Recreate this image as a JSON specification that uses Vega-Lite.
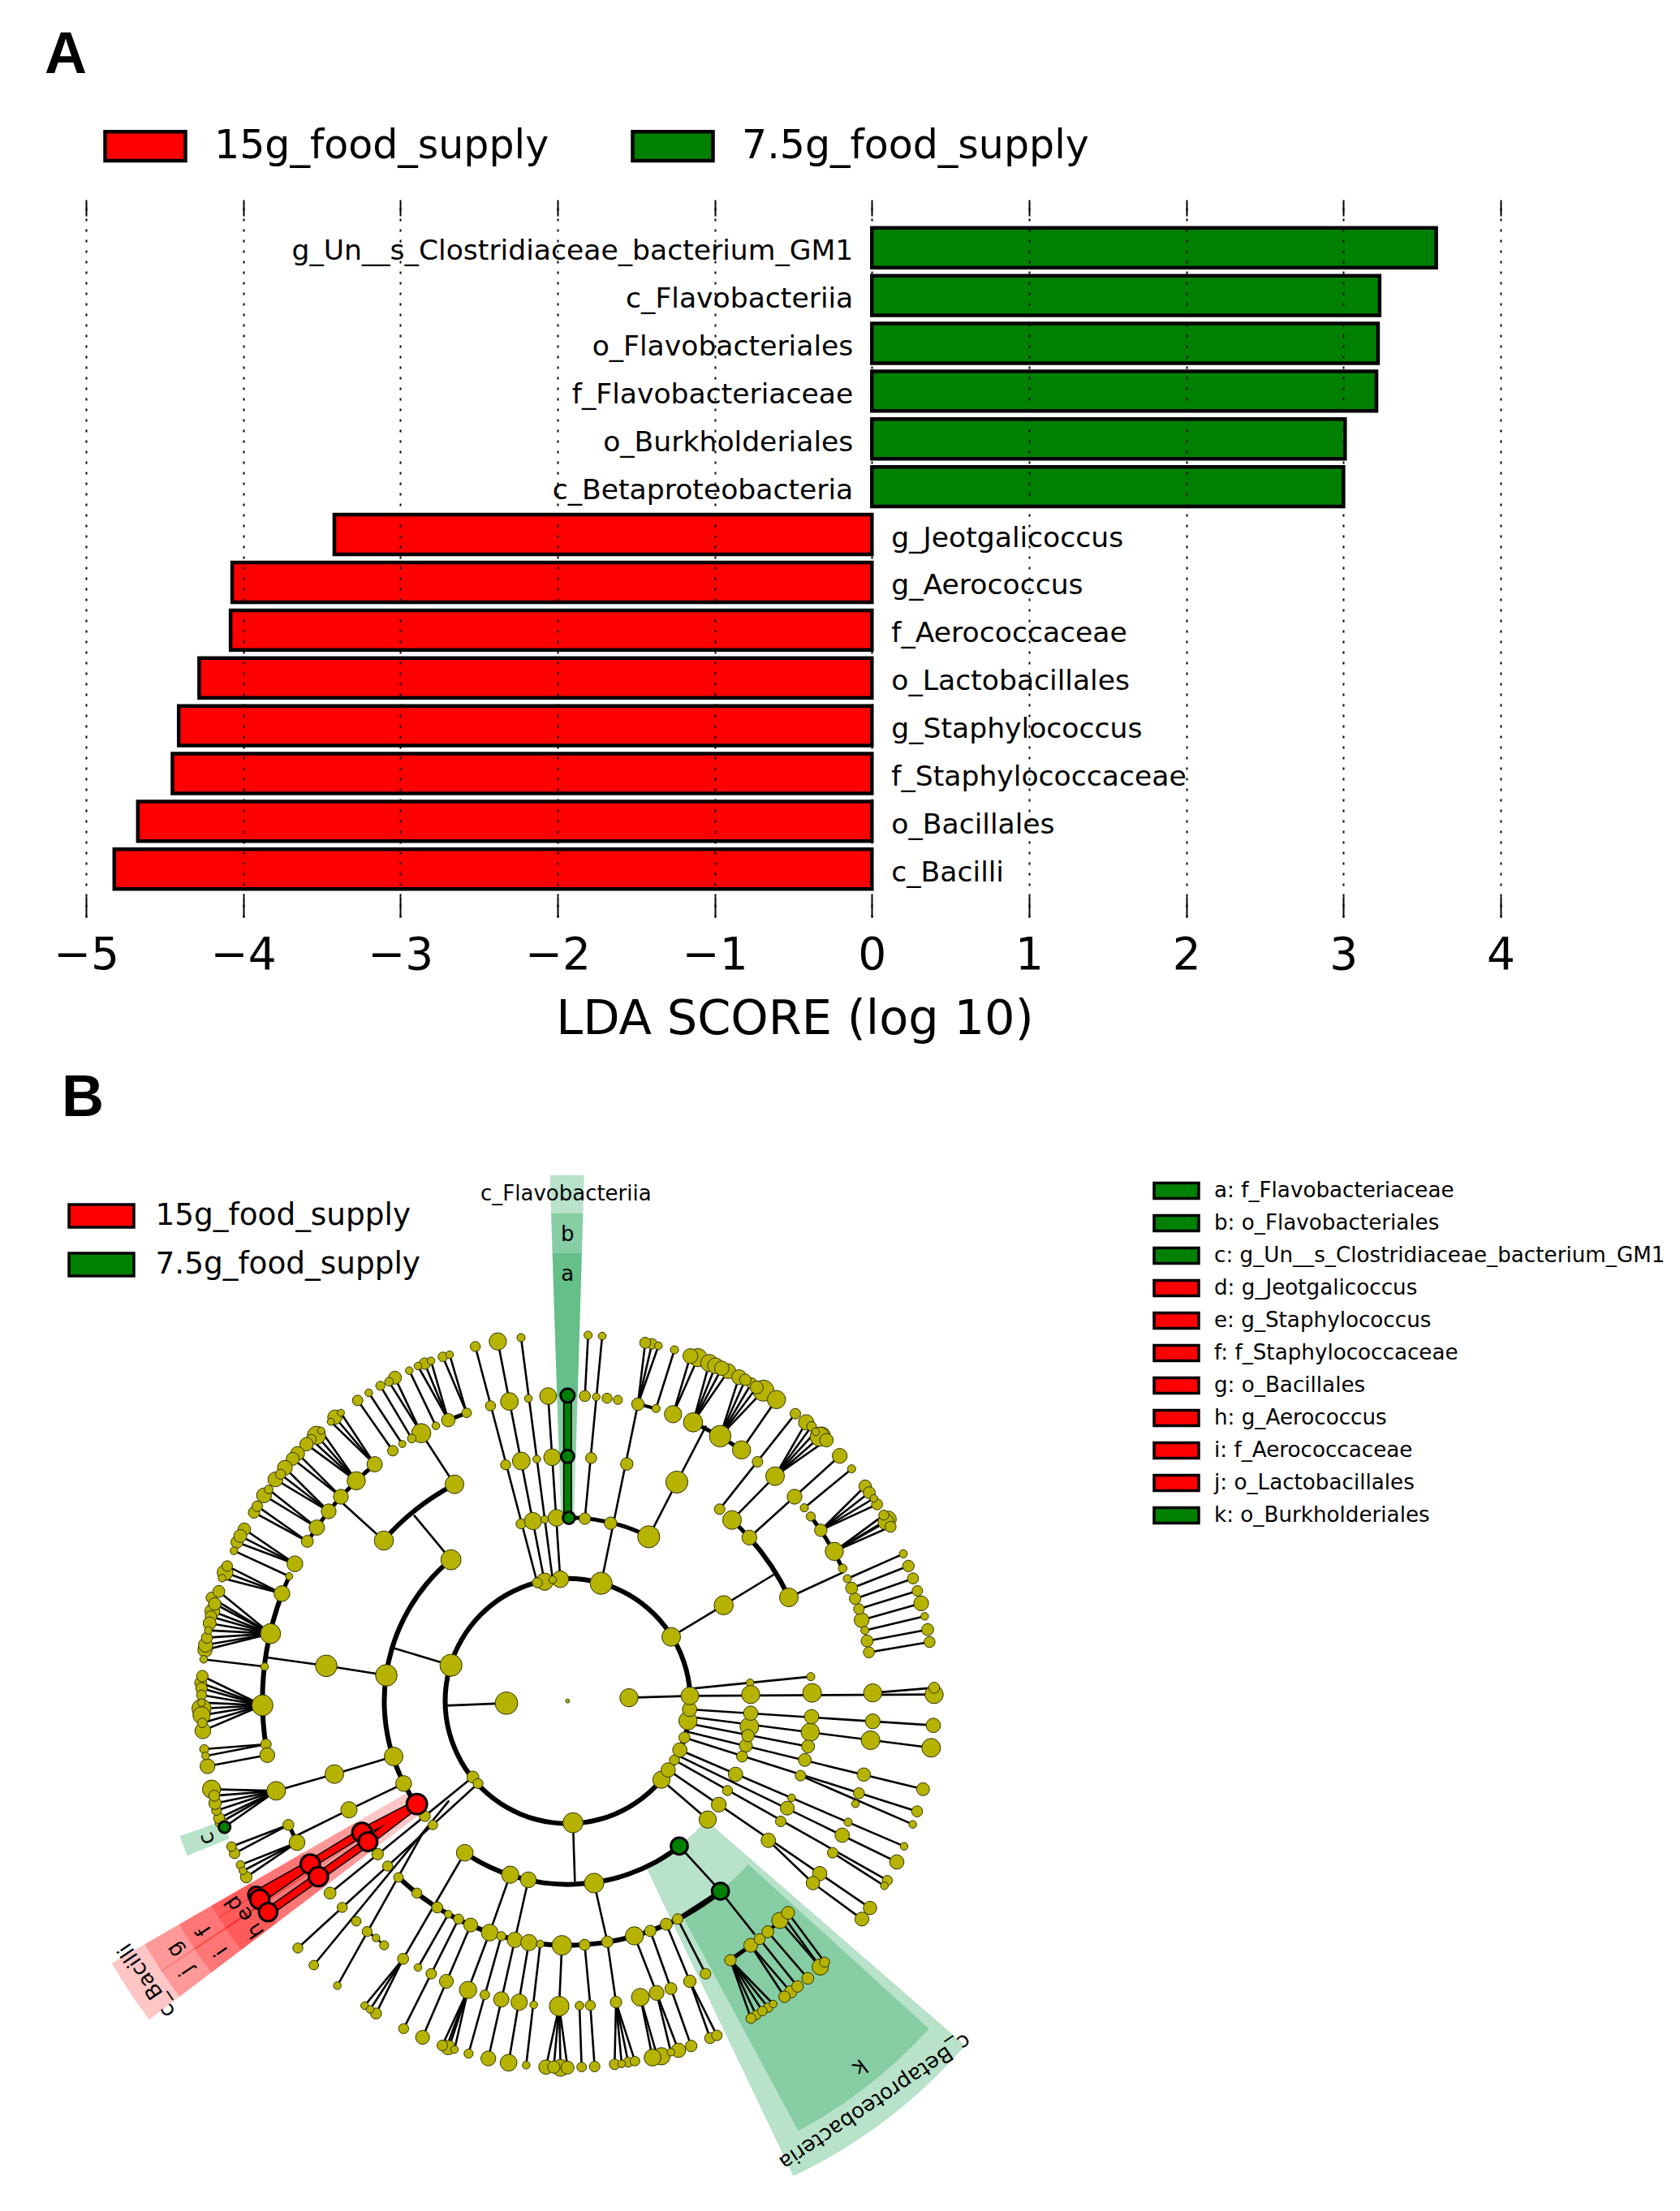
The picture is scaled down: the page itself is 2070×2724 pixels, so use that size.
{"$schema":"https://vega.github.io/schema/vega-lite/v6.json","background":"white","padding":{"left":0,"top":32,"right":0,"bottom":0},"autosize":{"type":"pad"},"spacing":15,"config":{"view":{"stroke":null},"font":"DejaVu Sans"},
"datasets":{
"lda":[{"taxon":"g_Un__s_Clostridiaceae_bacterium_GM1","score":3.59,"group":"7.5g_food_supply"},{"taxon":"c_Flavobacteriia","score":3.23,"group":"7.5g_food_supply"},{"taxon":"o_Flavobacteriales","score":3.22,"group":"7.5g_food_supply"},{"taxon":"f_Flavobacteriaceae","score":3.21,"group":"7.5g_food_supply"},{"taxon":"o_Burkholderiales","score":3.01,"group":"7.5g_food_supply"},{"taxon":"c_Betaproteobacteria","score":3.0,"group":"7.5g_food_supply"},{"taxon":"g_Jeotgalicoccus","score":-3.42,"group":"15g_food_supply"},{"taxon":"g_Aerococcus","score":-4.07,"group":"15g_food_supply"},{"taxon":"f_Aerococcaceae","score":-4.08,"group":"15g_food_supply"},{"taxon":"o_Lactobacillales","score":-4.28,"group":"15g_food_supply"},{"taxon":"g_Staphylococcus","score":-4.41,"group":"15g_food_supply"},{"taxon":"f_Staphylococcaceae","score":-4.45,"group":"15g_food_supply"},{"taxon":"o_Bacillales","score":-4.67,"group":"15g_food_supply"},{"taxon":"c_Bacilli","score":-4.82,"group":"15g_food_supply"}],
"wedgesGreen":[{"theta":-1.85,"theta2":1.7,"r":226,"r2":647,"rank":"class"},{"theta":-1.85,"theta2":1.7,"r":301,"r2":600,"rank":"order"},{"theta":-1.85,"theta2":1.7,"r":376,"r2":551,"rank":"family"},{"theta":131,"theta2":154.5,"r":226,"r2":647,"rank":"class"},{"theta":132.3,"theta2":151.7,"r":301,"r2":600,"rank":"order"},{"theta":248,"theta2":250.7,"r":451,"r2":505,"rank":"order"}],
"wedgesRed":[{"theta":232.8,"theta2":240,"r":226,"r2":647,"rank":"class"},{"theta":236.4,"theta2":240,"r":301,"r2":600,"rank":"order"},{"theta":232.8,"theta2":236.4,"r":301,"r2":600,"rank":"order"},{"theta":236.4,"theta2":240,"r":376,"r2":551,"rank":"order"},{"theta":232.8,"theta2":236.4,"r":376,"r2":551,"rank":"order"},{"theta":236.4,"theta2":238.2,"r":451,"r2":505,"rank":"order"},{"theta":238.2,"theta2":240,"r":451,"r2":505,"rank":"order"},{"theta":232.8,"theta2":236.4,"r":451,"r2":505,"rank":"order"}],
"arcs":[{"theta":0,"theta2":360,"r":148,"r2":154},{"theta":235.5,"theta2":320.5,"r":223,"r2":229},{"theta":142.4,"theta2":214.1,"r":223,"r2":229},{"theta":0,"theta2":26.3,"r":223.5,"r2":228.5},{"theta":311.1,"theta2":332.4,"r":298,"r2":304},{"theta":42.2,"theta2":48,"r":298.5,"r2":303.5},{"theta":48,"theta2":64.9,"r":298,"r2":304},{"theta":141.2,"theta2":223.8,"r":298,"r2":304},{"theta":337,"theta2":340.7,"r":373.5,"r2":378.5},{"theta":316.2,"theta2":320.8,"r":373.5,"r2":378.5},{"theta":301.5,"theta2":316.2,"r":373.5,"r2":378.5},{"theta":290.6,"theta2":294.1,"r":373.5,"r2":378.5},{"theta":261.8,"theta2":290.6,"r":373,"r2":379},{"theta":242.4,"theta2":246.1,"r":373.5,"r2":378.5},{"theta":13.3,"theta2":16.8,"r":374,"r2":378},{"theta":24.2,"theta2":34.7,"r":373.5,"r2":378.5},{"theta":52.8,"theta2":64.3,"r":373.5,"r2":378.5},{"theta":133.9,"theta2":147.9,"r":374,"r2":378.5}],
"edges":[
{"x":1326,"y":930,"x2":1097,"y2":57},{"x":1353,"y":926,"x2":1180,"y2":38},{"x":1383,"y":919,"x2":1266,"y2":24},{"x":1411,"y":917,"x2":1366,"y2":240},
{"x":1007,"y":845,"x2":870,"y2":680},{"x":1020,"y":566,"x2":897,"y2":377},{"x":759,"y":774,"x2":600,"y2":630},
{"x":1065,"y":302,"x2":1002,"y2":87},{"x":1065,"y":302,"x2":977,"y2":95},{"x":997,"y":329,"x2":933,"y2":110},{"x":997,"y":329,"x2":910,"y2":120},{"x":997,"y":329,"x2":885,"y2":129},{"x":951,"y":350,"x2":853,"y2":146},{"x":897,"y":377,"x2":800,"y2":172},{"x":897,"y":377,"x2":778,"y2":187},{"x":862,"y":397,"x2":746,"y2":202},{"x":827,"y":417,"x2":703,"y2":228},{"x":792,"y":442,"x2":662,"y2":256},
{"x":725,"y":492,"x2":600,"y2":302},{"x":725,"y":492,"x2":578,"y2":318},{"x":725,"y":492,"x2":563,"y2":335},
{"x":657,"y":553,"x2":527,"y2":368},{"x":657,"y":553,"x2":510,"y2":385},{"x":657,"y":553,"x2":490,"y2":400},{"x":657,"y":553,"x2":473,"y2":418},{"x":600,"y":612,"x2":440,"y2":452},{"x":600,"y":612,"x2":422,"y2":472},
{"x":555,"y":666,"x2":393,"y2":505},{"x":555,"y":666,"x2":377,"y2":529},{"x":555,"y":666,"x2":358,"y2":548},{"x":511,"y":726,"x2":333,"y2":585},{"x":511,"y":726,"x2":316,"y2":607},{"x":476,"y":777,"x2":291,"y2":647},{"x":476,"y":777,"x2":279,"y2":670},
{"x":430,"y":860,"x2":243,"y2":732},{"x":430,"y":860,"x2":228,"y2":757},{"x":430,"y":860,"x2":216,"y2":780},{"x":409,"y":906,"x2":205,"y2":812},{"x":382,"y":970,"x2":180,"y2":868},{"x":382,"y":970,"x2":172,"y2":892},{"x":382,"y":970,"x2":161,"y2":913},
{"x":340,"y":1118,"x2":149,"y2":962},{"x":340,"y":1118,"x2":122,"y2":985},{"x":340,"y":1118,"x2":134,"y2":1008},{"x":340,"y":1118,"x2":125,"y2":1035},{"x":340,"y":1118,"x2":120,"y2":1055},{"x":340,"y":1118,"x2":115,"y2":1080},{"x":340,"y":1118,"x2":110,"y2":1106},{"x":340,"y":1118,"x2":105,"y2":1133},{"x":340,"y":1118,"x2":100,"y2":1160},{"x":340,"y":1118,"x2":98,"y2":1178},
{"x":318,"y":1240,"x2":93,"y2":1213},{"x":320,"y":1205,"x2":546,"y2":1237},{"x":546,"y":1237,"x2":768,"y2":1272},{"x":1007,"y":1235,"x2":790,"y2":1170},{"x":1212,"y":1375,"x2":985,"y2":1384},
{"x":310,"y":1383,"x2":88,"y2":1275},{"x":310,"y":1383,"x2":82,"y2":1300},{"x":310,"y":1383,"x2":85,"y2":1320},{"x":310,"y":1383,"x2":85,"y2":1345},{"x":310,"y":1383,"x2":85,"y2":1373},{"x":310,"y":1383,"x2":85,"y2":1395},{"x":310,"y":1383,"x2":85,"y2":1420},{"x":310,"y":1383,"x2":88,"y2":1448},{"x":310,"y":1383,"x2":90,"y2":1477},
{"x":323,"y":1527,"x2":95,"y2":1545},{"x":323,"y":1527,"x2":100,"y2":1570},{"x":328,"y":1567,"x2":107,"y2":1608},
{"x":361,"y":1699,"x2":122,"y2":1693},{"x":361,"y":1699,"x2":132,"y2":1717},{"x":361,"y":1699,"x2":135,"y2":1745},{"x":361,"y":1699,"x2":140,"y2":1772},{"x":361,"y":1699,"x2":150,"y2":1800},{"x":361,"y":1699,"x2":157,"y2":1815},{"x":361,"y":1699,"x2":170,"y2":1833},
{"x":361,"y":1699,"x2":576,"y2":1637},{"x":576,"y":1637,"x2":795,"y2":1572},{"x":832,"y":1672,"x2":630,"y2":1769},{"x":630,"y":1769,"x2":415,"y2":1875},
{"x":406,"y":1825,"x2":196,"y2":1905},{"x":406,"y":1825,"x2":207,"y2":1930},{"x":438,"y":1890,"x2":229,"y2":1973},{"x":438,"y":1890,"x2":238,"y2":1995},{"x":438,"y":1890,"x2":250,"y2":2018},
{"x":1088,"y":1648,"x2":560,"y2":2077},{"x":1107,"y":1672,"x2":441,"y2":2280},{"x":1000,"y":1735,"x2":500,"y2":2343},{"x":900,"y":1860,"x2":587,"y2":2419},{"x":730,"y":2243,"x2":697,"y2":2219},{"x":730,"y":2243,"x2":760,"y2":2270},
{"x":1058,"y":1928,"x2":830,"y2":2320},{"x":830,"y":2320,"x2":688,"y2":2493},{"x":830,"y":2320,"x2":708,"y2":2507},{"x":830,"y":2320,"x2":730,"y2":2522},
{"x":997,"y":2155,"x2":885,"y2":2352},{"x":1035,"y":2173,"x2":832,"y2":2578},{"x":1080,"y":2195,"x2":902,"y2":2610},{"x":1150,"y":2223,"x2":1070,"y2":2435},{"x":1070,"y":2435,"x2":975,"y2":2640},{"x":1070,"y":2435,"x2":990,"y2":2648},{"x":1070,"y":2435,"x2":1000,"y2":2648},{"x":1070,"y":2435,"x2":1020,"y2":2655},
{"x":1193,"y":2236,"x2":1072,"y2":2670},{"x":1243,"y":2250,"x2":1145,"y2":2688},{"x":1295,"y":2260,"x2":1220,"y2":2704},{"x":1337,"y":2265,"x2":1285,"y2":2713},{"x":1417,"y":2270,"x2":1407,"y2":2495},{"x":1407,"y":2495,"x2":1358,"y2":2720},{"x":1407,"y":2495,"x2":1387,"y2":2720},{"x":1407,"y":2495,"x2":1412,"y2":2723},{"x":1407,"y":2495,"x2":1438,"y2":2722},
{"x":1226,"y":2009,"x2":1150,"y2":2223},{"x":1293,"y":2028,"x2":1243,"y2":2250},{"x":1536,"y":2040,"x2":1585,"y2":2257},{"x":1458,"y":1817,"x2":1465,"y2":2035},
{"x":1501,"y":2268,"x2":1522,"y2":2492},{"x":1482,"y":2493,"x2":1490,"y2":2720},{"x":1522,"y":2492,"x2":1538,"y2":2718},{"x":1585,"y":2257,"x2":1617,"y2":2480},{"x":1617,"y":2480,"x2":1612,"y2":2710},{"x":1617,"y":2480,"x2":1638,"y2":2708},{"x":1617,"y":2480,"x2":1662,"y2":2702},{"x":1617,"y":2480,"x2":1687,"y2":2698},
{"x":1685,"y":2235,"x2":1767,"y2":2446},{"x":1707,"y":2462,"x2":1752,"y2":2685},{"x":1707,"y":2462,"x2":1770,"y2":2682},{"x":1744,"y":2217,"x2":1820,"y2":2430},{"x":1767,"y":2446,"x2":1820,"y2":2665},{"x":1767,"y":2446,"x2":1848,"y2":2658},{"x":1803,"y":2192,"x2":1890,"y2":2403},{"x":1820,"y":2430,"x2":1895,"y2":2642},{"x":1890,"y":2403,"x2":1965,"y2":2613},{"x":1890,"y":2403,"x2":1990,"y2":2603},{"x":1845,"y":2173,"x2":1948,"y2":2375},
{"x":1851,"y":1903,"x2":2003,"y2":2070},{"x":2003,"y":2070,"x2":2130,"y2":2230},
{"x":2040,"y":2325,"x2":2116,"y2":2540},{"x":2040,"y":2325,"x2":2135,"y2":2528},{"x":2040,"y":2325,"x2":2158,"y2":2513},{"x":2040,"y":2325,"x2":2180,"y2":2500},{"x":2040,"y":2325,"x2":2198,"y2":2487},{"x":2115,"y":2270,"x2":2240,"y2":2460},{"x":2115,"y":2270,"x2":2263,"y2":2442},{"x":2148,"y":2247,"x2":2288,"y2":2422},{"x":2178,"y":2220,"x2":2326,"y2":2392},{"x":2223,"y":2178,"x2":2372,"y2":2350},{"x":2253,"y":2150,"x2":2388,"y2":2332},{"x":2240,"y":2168,"x2":2372,"y2":2350},
{"x":1502,"y":693,"x2":1566,"y2":18},{"x":1502,"y":240,"x2":1514,"y2":15},{"x":1562,"y":932,"x2":1698,"y2":270},{"x":1698,"y":270,"x2":1725,"y2":43},{"x":1698,"y":270,"x2":1750,"y2":47},{"x":1698,"y":270,"x2":1774,"y2":54},{"x":1765,"y":286,"x2":1833,"y2":69},{"x":1738,"y":760,"x2":1842,"y2":558},{"x":1842,"y":558,"x2":1950,"y2":350},
{"x":1828,"y":307,"x2":1892,"y2":92},{"x":1828,"y":307,"x2":1920,"y2":98},{"x":1902,"y":337,"x2":1962,"y2":118},{"x":1902,"y":337,"x2":1985,"y2":128},{"x":1902,"y":337,"x2":2008,"y2":137},{"x":1902,"y":337,"x2":2032,"y2":148},{"x":2002,"y":388,"x2":2072,"y2":170},{"x":2002,"y":388,"x2":2095,"y2":180},{"x":2002,"y":388,"x2":2118,"y2":192},{"x":2002,"y":388,"x2":2137,"y2":208},{"x":2002,"y":388,"x2":2162,"y2":220},{"x":2081,"y":439,"x2":2210,"y2":253},
{"x":1821,"y":1130,"x2":2015,"y2":1013},{"x":2015,"y":1013,"x2":2200,"y2":900},{"x":2256,"y":984,"x2":2460,"y2":890},
{"x":2000,"y":658,"x2":2280,"y2":305},{"x":2046,"y":698,"x2":2205,"y2":536},{"x":2205,"y":536,"x2":2320,"y2":337},{"x":2205,"y":536,"x2":2340,"y2":352},{"x":2205,"y":536,"x2":2355,"y2":372},{"x":2205,"y":536,"x2":2378,"y2":385},{"x":2205,"y":536,"x2":2395,"y2":403},{"x":2110,"y":763,"x2":2444,"y2":461},{"x":2313,"y":653,"x2":2488,"y2":509},
{"x":2374,"y":736,"x2":2538,"y2":573},{"x":2374,"y":736,"x2":2553,"y2":597},{"x":2374,"y":736,"x2":2570,"y2":618},{"x":2374,"y":736,"x2":2582,"y2":640},{"x":2424,"y":814,"x2":2607,"y2":680},{"x":2424,"y":814,"x2":2623,"y2":695},{"x":2424,"y":814,"x2":2615,"y2":705},{"x":2424,"y":814,"x2":2632,"y2":723},
{"x":2472,"y":915,"x2":2679,"y2":823},{"x":2488,"y":950,"x2":2698,"y2":868},{"x":2501,"y":989,"x2":2715,"y2":914},{"x":2515,"y":1027,"x2":2731,"y2":960},{"x":2525,"y":1068,"x2":2745,"y2":1006},{"x":2537,"y":1106,"x2":2758,"y2":1054},{"x":2545,"y":1145,"x2":2769,"y2":1103},{"x":2552,"y":1187,"x2":2776,"y2":1149},
{"x":1665,"y":1355,"x2":1890,"y2":1348},{"x":1890,"y":1348,"x2":2793,"y2":1343},{"x":2566,"y":1337,"x2":2793,"y2":1318},{"x":1890,"y":1322,"x2":2337,"y2":1277},
{"x":1889,"y":1398,"x2":2790,"y2":1457},{"x":1887,"y":1425,"x2":2782,"y2":1540},{"x":1883,"y":1450,"x2":2327,"y2":1535},{"x":1877,"y":1480,"x2":2752,"y2":1693},{"x":1870,"y":1502,"x2":2730,"y2":1775},{"x":2299,"y":1643,"x2":2714,"y2":1823},{"x":1853,"y":1548,"x2":2682,"y2":1904},{"x":1843,"y":1567,"x2":2655,"y2":1962},{"x":1833,"y":1585,"x2":2620,"y2":2030},{"x":2418,"y":1928,"x2":2609,"y2":2050},{"x":1810,"y":1622,"x2":2370,"y2":2005},{"x":2180,"y":1882,"x2":2345,"y2":2040},{"x":2370,"y":2005,"x2":2556,"y2":2132},{"x":2345,"y":2040,"x2":2526,"y2":2173},{"x":1785,"y":1658,"x2":1956,"y2":1805}
],
"edgesHeavy":[{"x":1845,"y":2173,"x2":2003,"y2":2070},{"x":2040,"y":2325,"x2":2115,"y2":2270}],
"edgesGreen":[{"x":1438,"y":690,"x2":1438,"y2":463},{"x":1438,"y":463,"x2":1438,"y2":238}],
"edgesRed":[{"x":881,"y":1748,"x2":678,"y2":1853},{"x":881,"y":1748,"x2":700,"y2":1887},{"x":678,"y":1853,"x2":487,"y2":1970},{"x":700,"y":1887,"x2":517,"y2":2016},{"x":487,"y":1970,"x2":287,"y2":2083},{"x":487,"y":1970,"x2":300,"y2":2100},{"x":517,"y":2016,"x2":331,"y2":2147}],
"nodes":[
{"x":1097,"y":57,"d":42},{"x":1180,"y":38,"d":72},{"x":1266,"y":24,"d":34},{"x":1153,"y":276,"d":42},{"x":1223,"y":260,"d":74},{"x":1293,"y":249,"d":32},{"x":1366,"y":240,"d":70},{"x":1209,"y":494,"d":42},{"x":1267,"y":480,"d":74},{"x":1324,"y":473,"d":32},{"x":1381,"y":466,"d":70},{"x":1266,"y":712,"d":42},{"x":1310,"y":702,"d":72},{"x":1353,"y":696,"d":32},{"x":1397,"y":690,"d":70},{"x":1353,"y":926,"d":72},{"x":1326,"y":930,"d":42},{"x":1411,"y":917,"d":70},{"x":1383,"y":919,"d":32},
{"x":1020,"y":566,"d":78},{"x":759,"y":774,"d":80},{"x":1007,"y":845,"d":84},{"x":897,"y":377,"d":80},{"x":600,"y":612,"d":62},{"x":657,"y":553,"d":76},{"x":725,"y":492,"d":64},{"x":555,"y":666,"d":62},{"x":511,"y":726,"d":64},{"x":476,"y":777,"d":50},{"x":792,"y":442,"d":44},{"x":827,"y":417,"d":30},{"x":862,"y":397,"d":36},{"x":951,"y":350,"d":32},{"x":997,"y":329,"d":56},{"x":1065,"y":302,"d":40},
{"x":977,"y":95,"d":40},{"x":1002,"y":87,"d":32},{"x":910,"y":120,"d":48},{"x":933,"y":110,"d":32},{"x":885,"y":129,"d":32},{"x":853,"y":146,"d":32},{"x":800,"y":172,"d":54},{"x":778,"y":187,"d":36},{"x":746,"y":202,"d":38},{"x":703,"y":228,"d":32},{"x":662,"y":256,"d":44},{"x":578,"y":318,"d":60},{"x":600,"y":302,"d":30},{"x":563,"y":335,"d":30},{"x":510,"y":385,"d":76},{"x":527,"y":368,"d":30},{"x":490,"y":400,"d":42},{"x":473,"y":418,"d":56},{"x":440,"y":452,"d":58},{"x":422,"y":472,"d":54},{"x":393,"y":505,"d":62},{"x":358,"y":548,"d":62},{"x":377,"y":529,"d":42},{"x":316,"y":607,"d":62},{"x":333,"y":585,"d":36},{"x":279,"y":670,"d":48},{"x":291,"y":647,"d":44},
{"x":430,"y":860,"d":66},{"x":243,"y":732,"d":52},{"x":216,"y":780,"d":50},{"x":228,"y":757,"d":54},{"x":409,"y":906,"d":30},{"x":205,"y":812,"d":32},{"x":382,"y":970,"d":66},{"x":172,"y":892,"d":66},{"x":180,"y":868,"d":44},{"x":161,"y":913,"d":32},
{"x":340,"y":1118,"d":84},{"x":122,"y":985,"d":46},{"x":149,"y":962,"d":50},{"x":125,"y":1035,"d":62},{"x":134,"y":1008,"d":52},{"x":120,"y":1055,"d":48},{"x":115,"y":1080,"d":54},{"x":98,"y":1178,"d":60},{"x":100,"y":1160,"d":60},{"x":105,"y":1133,"d":46},{"x":110,"y":1106,"d":32},{"x":93,"y":1213,"d":32},{"x":318,"y":1240,"d":32},{"x":546,"y":1237,"d":90},{"x":768,"y":1272,"d":90},{"x":1007,"y":1235,"d":92},{"x":1212,"y":1375,"d":94},{"x":1438,"y":1367,"d":16},
{"x":310,"y":1383,"d":88},{"x":82,"y":1300,"d":50},{"x":88,"y":1275,"d":48},{"x":85,"y":1320,"d":48},{"x":85,"y":1395,"d":80},{"x":85,"y":1345,"d":42},{"x":90,"y":1477,"d":66},{"x":85,"y":1420,"d":72},{"x":85,"y":1373,"d":32},{"x":88,"y":1448,"d":40},
{"x":323,"y":1527,"d":44},{"x":328,"y":1567,"d":62},{"x":95,"y":1545,"d":38},{"x":107,"y":1608,"d":62},{"x":100,"y":1570,"d":32},
{"x":361,"y":1699,"d":78},{"x":122,"y":1693,"d":76},{"x":157,"y":1815,"d":50},{"x":150,"y":1800,"d":46},{"x":140,"y":1772,"d":40},{"x":135,"y":1745,"d":52},{"x":132,"y":1717,"d":46},
{"x":576,"y":1637,"d":78},{"x":795,"y":1572,"d":78},{"x":832,"y":1672,"d":66},{"x":630,"y":1769,"d":68},{"x":406,"y":1825,"d":46},{"x":438,"y":1890,"d":66},{"x":207,"y":1930,"d":44},{"x":196,"y":1905,"d":40},{"x":229,"y":1973,"d":36},{"x":250,"y":2018,"d":48},{"x":238,"y":1995,"d":32},
{"x":1088,"y":1648,"d":50},{"x":1107,"y":1672,"d":42},{"x":910,"y":1792,"d":46},{"x":940,"y":1825,"d":40},{"x":736,"y":1933,"d":48},{"x":773,"y":1977,"d":42},{"x":813,"y":2019,"d":40},{"x":881,"y":2077,"d":42},{"x":560,"y":2077,"d":50},{"x":605,"y":2130,"d":42},{"x":657,"y":2181,"d":40},{"x":697,"y":2219,"d":42},{"x":760,"y":2270,"d":38},{"x":730,"y":2243,"d":32},{"x":441,"y":2280,"d":42},{"x":500,"y":2343,"d":40},{"x":587,"y":2419,"d":32},
{"x":1058,"y":1928,"d":70},{"x":1226,"y":2009,"d":72},{"x":1293,"y":2028,"d":66},{"x":1536,"y":2040,"d":82},{"x":1458,"y":1817,"d":84},
{"x":956,"y":2130,"d":46},{"x":997,"y":2155,"d":32},{"x":1035,"y":2173,"d":42},{"x":1080,"y":2195,"d":58},{"x":1150,"y":2223,"d":70},{"x":1193,"y":2236,"d":38},{"x":1243,"y":2250,"d":64},{"x":1295,"y":2260,"d":68},{"x":1337,"y":2265,"d":32},{"x":1417,"y":2270,"d":82},{"x":1501,"y":2268,"d":46},{"x":1585,"y":2257,"d":48},{"x":1685,"y":2235,"d":76},{"x":1744,"y":2217,"d":48},{"x":1803,"y":2192,"d":50},{"x":1845,"y":2173,"d":44},
{"x":830,"y":2320,"d":46},{"x":688,"y":2493,"d":32},{"x":730,"y":2522,"d":46},{"x":708,"y":2507,"d":32},{"x":885,"y":2352,"d":32},{"x":934,"y":2375,"d":44},{"x":832,"y":2578,"d":42},{"x":990,"y":2403,"d":58},{"x":902,"y":2610,"d":58},{"x":1070,"y":2435,"d":72},{"x":997,"y":2648,"d":60},{"x":975,"y":2640,"d":44},{"x":1020,"y":2655,"d":32},{"x":1132,"y":2453,"d":40},{"x":1072,"y":2670,"d":38},{"x":1193,"y":2470,"d":64},{"x":1145,"y":2688,"d":62},{"x":1259,"y":2480,"d":68},{"x":1220,"y":2704,"d":70},{"x":1313,"y":2490,"d":32},{"x":1285,"y":2713,"d":32},{"x":1407,"y":2495,"d":82},{"x":1412,"y":2723,"d":70},{"x":1358,"y":2720,"d":60},{"x":1438,"y":2722,"d":54},{"x":1387,"y":2720,"d":52},
{"x":1482,"y":2493,"d":36},{"x":1522,"y":2492,"d":42},{"x":1617,"y":2480,"d":48},{"x":1707,"y":2462,"d":74},{"x":1767,"y":2446,"d":62},{"x":1820,"y":2430,"d":50},{"x":1890,"y":2403,"d":52},{"x":1948,"y":2375,"d":44},{"x":1490,"y":2720,"d":40},{"x":1538,"y":2718,"d":44},{"x":1612,"y":2710,"d":44},{"x":1662,"y":2702,"d":42},{"x":1687,"y":2698,"d":40},{"x":1638,"y":2708,"d":32},{"x":1785,"y":2680,"d":72},{"x":1752,"y":2685,"d":70},{"x":1848,"y":2658,"d":60},{"x":1820,"y":2665,"d":32},{"x":1895,"y":2642,"d":48},{"x":1965,"y":2613,"d":46},{"x":1990,"y":2603,"d":44},
{"x":2040,"y":2325,"d":48},{"x":2115,"y":2270,"d":58},{"x":2148,"y":2247,"d":46},{"x":2178,"y":2220,"d":50},{"x":2223,"y":2178,"d":68},{"x":2253,"y":2150,"d":54},{"x":2135,"y":2528,"d":40},{"x":2116,"y":2540,"d":42},{"x":2180,"y":2500,"d":40},{"x":2158,"y":2513,"d":40},{"x":2198,"y":2487,"d":32},{"x":2263,"y":2442,"d":52},{"x":2240,"y":2460,"d":48},{"x":2288,"y":2422,"d":48},{"x":2326,"y":2392,"d":50},{"x":2372,"y":2350,"d":68},{"x":2388,"y":2332,"d":42},
{"x":1502,"y":693,"d":48},{"x":1597,"y":710,"d":52},{"x":1738,"y":760,"d":92},{"x":1502,"y":240,"d":46},{"x":1544,"y":243,"d":32},{"x":1584,"y":248,"d":42},{"x":1624,"y":254,"d":38},{"x":1525,"y":469,"d":46},{"x":1657,"y":491,"d":52},{"x":1842,"y":558,"d":92},{"x":1514,"y":15,"d":34},{"x":1566,"y":18,"d":32},{"x":1698,"y":270,"d":52},{"x":1750,"y":47,"d":44},{"x":1725,"y":43,"d":46},{"x":1774,"y":54,"d":32},{"x":1765,"y":286,"d":34},{"x":1833,"y":69,"d":34},{"x":1828,"y":307,"d":72},{"x":1902,"y":337,"d":80},{"x":2002,"y":388,"d":90},{"x":2081,"y":439,"d":76},
{"x":1920,"y":98,"d":76},{"x":1892,"y":92,"d":62},{"x":1962,"y":118,"d":72},{"x":2032,"y":148,"d":62},{"x":1985,"y":128,"d":66},{"x":2008,"y":137,"d":60},{"x":2072,"y":170,"d":62},{"x":2118,"y":192,"d":44},{"x":2095,"y":180,"d":48},{"x":2162,"y":220,"d":88},{"x":2137,"y":208,"d":54},{"x":2210,"y":253,"d":76},
{"x":1562,"y":932,"d":92},{"x":1821,"y":1130,"d":78},{"x":2015,"y":1013,"d":80},{"x":2256,"y":984,"d":78},{"x":2110,"y":763,"d":62},{"x":2046,"y":698,"d":78},{"x":2000,"y":658,"d":44},{"x":2277,"y":612,"d":62},{"x":2140,"y":483,"d":44},{"x":2205,"y":536,"d":78},{"x":2280,"y":305,"d":44},{"x":2444,"y":461,"d":62},{"x":2320,"y":337,"d":64},{"x":2378,"y":385,"d":70},{"x":2370,"y":390,"d":80},{"x":2340,"y":352,"d":40},{"x":2395,"y":403,"d":56},{"x":2355,"y":372,"d":32},
{"x":2313,"y":653,"d":34},{"x":2488,"y":509,"d":34},{"x":2337,"y":685,"d":38},{"x":2374,"y":736,"d":52},{"x":2424,"y":814,"d":76},{"x":2538,"y":573,"d":52},{"x":2553,"y":597,"d":50},{"x":2582,"y":640,"d":46},{"x":2570,"y":618,"d":32},{"x":2623,"y":695,"d":68},{"x":2615,"y":705,"d":66},{"x":2607,"y":680,"d":42},{"x":2632,"y":723,"d":46},
{"x":2455,"y":877,"d":36},{"x":2472,"y":915,"d":34},{"x":2488,"y":950,"d":50},{"x":2501,"y":989,"d":48},{"x":2525,"y":1068,"d":62},{"x":2515,"y":1027,"d":44},{"x":2537,"y":1106,"d":34},{"x":2545,"y":1145,"d":50},{"x":2552,"y":1187,"d":46},{"x":2679,"y":823,"d":34},{"x":2698,"y":868,"d":48},{"x":2715,"y":914,"d":46},{"x":2731,"y":960,"d":44},{"x":2745,"y":1006,"d":62},{"x":2758,"y":1054,"d":32},{"x":2769,"y":1103,"d":50},{"x":2776,"y":1149,"d":46},
{"x":1665,"y":1355,"d":76},{"x":1883,"y":1440,"d":76},{"x":1889,"y":1398,"d":60},{"x":1890,"y":1348,"d":74},{"x":2113,"y":1300,"d":32},{"x":2115,"y":1343,"d":76},{"x":2342,"y":1337,"d":78},{"x":2566,"y":1337,"d":76},{"x":2793,"y":1343,"d":76},{"x":2793,"y":1318,"d":46},{"x":2337,"y":1277,"d":34},
{"x":2110,"y":1462,"d":78},{"x":2115,"y":1412,"d":60},{"x":2097,"y":1532,"d":54},{"x":2105,"y":1495,"d":52},{"x":2083,"y":1572,"d":46},{"x":2335,"y":1482,"d":76},{"x":2340,"y":1425,"d":60},{"x":2327,"y":1535,"d":54},{"x":2315,"y":1585,"d":54},{"x":2558,"y":1512,"d":78},{"x":2566,"y":1442,"d":62},{"x":2790,"y":1457,"d":60},{"x":2782,"y":1540,"d":78},{"x":2533,"y":1639,"d":56},{"x":2752,"y":1693,"d":54},{"x":2299,"y":1643,"d":44},{"x":2515,"y":1708,"d":46},{"x":2730,"y":1775,"d":46},{"x":2502,"y":1747,"d":32},{"x":2714,"y":1823,"d":32},
{"x":1785,"y":1658,"d":72},{"x":1810,"y":1622,"d":60},{"x":1833,"y":1585,"d":42},{"x":1853,"y":1548,"d":60},{"x":1870,"y":1502,"d":46},
{"x":2059,"y":1638,"d":60},{"x":2266,"y":1725,"d":32},{"x":2475,"y":1815,"d":34},{"x":2682,"y":1904,"d":32},{"x":2250,"y":1763,"d":58},{"x":2453,"y":1863,"d":60},{"x":2655,"y":1962,"d":60},{"x":2029,"y":1698,"d":42},{"x":2226,"y":1812,"d":44},{"x":2418,"y":1928,"d":44},{"x":2620,"y":2030,"d":42},{"x":2609,"y":2050,"d":32},{"x":1997,"y":1750,"d":62},{"x":2180,"y":1882,"d":60},{"x":2370,"y":2005,"d":60},{"x":2345,"y":2040,"d":56},{"x":2556,"y":2132,"d":56},{"x":2526,"y":2173,"d":58},{"x":1956,"y":1805,"d":72}
],
"classes":[{"x":881,"y":1748,"d":84,"group":"15g_food_supply"},{"x":1443,"y":690,"d":50,"group":"7.5g_food_supply"},{"x":1851,"y":1903,"d":70,"group":"7.5g_food_supply"}],
"clades":[{"x":1438,"y":238,"d":58,"clade":"a: f_Flavobacteriaceae"},{"x":1438,"y":463,"d":54,"clade":"b: o_Flavobacteriales"},{"x":170,"y":1833,"d":48,"clade":"c: g_Un__s_Clostridiaceae_bacterium_GM1"},{"x":287,"y":2083,"d":66,"clade":"d: g_Jeotgalicoccus"},{"x":300,"y":2100,"d":80,"clade":"e: g_Staphylococcus"},{"x":487,"y":1970,"d":80,"clade":"f: f_Staphylococcaceae"},{"x":678,"y":1853,"d":80,"clade":"g: o_Bacillales"},{"x":331,"y":2147,"d":76,"clade":"h: g_Aerococcus"},{"x":517,"y":2016,"d":80,"clade":"i: f_Aerococcaceae"},{"x":700,"y":1887,"d":78,"clade":"j: o_Lactobacillales"},{"x":2003,"y":2070,"d":70,"clade":"k: o_Burkholderiales"}],
"labels":[{"x":1432,"y":-507,"label":"c_Flavobacteriia","angle":0},{"x":1438,"y":-358,"label":"b","angle":0},{"x":1438,"y":-210,"label":"a","angle":0},{"x":2574,"y":2847,"label":"c_Betaproteobacteria","angle":146},{"x":2518,"y":2720,"label":"k","angle":142},{"x":105,"y":1875,"label":"c","angle":250},{"x":-117,"y":2400,"label":"c_Bacilli","angle":236},{"x":-13,"y":2287,"label":"g","angle":236},{"x":29,"y":2365,"label":"j","angle":236},{"x":95,"y":2215,"label":"f","angle":236},{"x":158,"y":2293,"label":"i","angle":236},{"x":205,"y":2115,"label":"d","angle":236},{"x":245,"y":2155,"label":"e","angle":236},{"x":285,"y":2215,"label":"h","angle":236}]
},
"vconcat":[
{"width":2070,"height":884,
"title":{"text":"A","anchor":"start","frame":"group","orient":"top","offset":83,"dx":55,"baseline":"alphabetic","font":"Liberation Sans","fontWeight":"bold","fontSize":72,"color":"black"},
"data":{"name":"lda"},
"resolve":{"axis":{"x":"independent"}},
"layer":[
{"mark":{"type":"bar","stroke":"black","strokeWidth":4.5},
"encoding":{
"y":{"field":"taxon","type":"nominal","sort":null,"axis":null,"scale":{"paddingInner":0.17,"paddingOuter":0.59}},
"x":{"field":"score","type":"quantitative","scale":{"domain":[-5.547,5.141],"nice":false,"zero":false},
"axis":{"values":[-5,-4,-3,-2,-1,0,1,2,3,4],"orient":"bottom","grid":true,"gridColor":"black","gridDash":[3,10],"gridWidth":2,"domain":false,"tickSize":-26,"tickWidth":2,"tickColor":"black","labelPadding":46,"labelFontSize":55,"labelColor":"black","labelFont":"DejaVu Sans","zindex":1,"title":"LDA SCORE (log 10)","titleFontSize":59,"titleFont":"DejaVu Sans","titleFontWeight":"normal","titleColor":"black","titleX":979,"titleY":143,"titleBaseline":"alphabetic"}},
"x2":{"datum":0},
"fill":{"field":"group","type":"nominal","scale":{"domain":["15g_food_supply","7.5g_food_supply"],"range":["#ff0000","#008000"]},
"legend":{"title":null,"orient":"none","legendX":127,"legendY":-118,"columns":2,"symbolType":"M-1,-0.36H1V0.36H-1Z","symbolSize":9801,"symbolStrokeColor":"black","symbolStrokeWidth":4.5,"symbolOpacity":1,"labelFontSize":49,"labelFont":"DejaVu Sans","labelColor":"black","labelOffset":33,"columnPadding":93,"labelLimit":700}}}},
{"transform":[{"filter":"datum.score>0"}],"mark":{"type":"text","align":"right","baseline":"middle","dx":-23,"dy":5,"fontSize":34.6,"font":"DejaVu Sans","color":"black"},
"encoding":{"y":{"field":"taxon","type":"nominal","sort":null,"axis":null},"x":{"datum":0,"type":"quantitative","axis":{"values":[-5,-4,-3,-2,-1,0,1,2,3,4],"orient":"top","grid":false,"domain":false,"labels":false,"title":null,"tickSize":-20,"tickWidth":2,"tickColor":"black"}},"text":{"field":"taxon"}}},
{"transform":[{"filter":"datum.score<0"}],"mark":{"type":"text","align":"left","baseline":"middle","dx":24,"dy":5,"fontSize":34.6,"font":"DejaVu Sans","color":"black"},
"encoding":{"y":{"field":"taxon","type":"nominal","sort":null,"axis":null},"x":{"datum":0,"type":"quantitative","axis":null},"text":{"field":"taxon"}}}
]},
{"width":2070,"height":1424,
"title":{"text":"B","anchor":"start","frame":"group","orient":"top","offset":-147,"dx":76,"baseline":"alphabetic","font":"Liberation Sans","fontWeight":"bold","fontSize":72,"color":"black"},
"resolve":{"scale":{"fill":"independent"},"legend":{"fill":"independent"}},
"layer":[
{"data":{"name":"wedgesGreen"},"mark":{"type":"arc","fill":"#17a04e","stroke":"#17a04e","strokeWidth":2},
"encoding":{"x":{"datum":1438.5,"type":"quantitative","axis":null,"scale":{"domain":[-660,5550],"nice":false,"zero":false}},"y":{"datum":1367,"type":"quantitative","axis":null,"scale":{"domain":[-1020,3252],"reverse":true,"nice":false,"zero":false}},
"theta":{"field":"theta","type":"quantitative","stack":false,"scale":{"domain":[0,360],"range":[0,6.28318]}},"theta2":{"field":"theta2"},
"radius":{"field":"r","type":"quantitative","scale":{"type":"linear","domain":[0,1000],"range":[0,1000]}},"radius2":{"field":"r2"},
"opacity":{"field":"rank","type":"nominal","scale":{"domain":["class","order","family"],"range":[0.3,0.3,0.5]},"legend":null}}},
{"data":{"name":"wedgesRed"},"mark":{"type":"arc","fill":"#ff0000","stroke":"#ff0000","strokeWidth":2,"opacity":0.22},
"encoding":{"x":{"datum":1438.5,"type":"quantitative"},"y":{"datum":1367,"type":"quantitative"},
"theta":{"field":"theta","type":"quantitative","stack":false,"scale":{"domain":[0,360],"range":[0,6.28318]}},"theta2":{"field":"theta2"},
"radius":{"field":"r","type":"quantitative","scale":{"type":"linear","domain":[0,1000],"range":[0,1000]}},"radius2":{"field":"r2"}}},
{"data":{"name":"arcs"},"mark":{"type":"arc","fill":"black"},
"encoding":{"x":{"datum":1438.5,"type":"quantitative"},"y":{"datum":1367,"type":"quantitative"},
"theta":{"field":"theta","type":"quantitative","stack":false,"scale":{"domain":[0,360],"range":[0,6.28318]}},"theta2":{"field":"theta2"},
"radius":{"field":"r","type":"quantitative","scale":{"type":"linear","domain":[0,1000],"range":[0,1000]}},"radius2":{"field":"r2"}}},
{"data":{"name":"edges"},"mark":{"type":"rule","color":"black","strokeWidth":2.6},"encoding":{"x":{"field":"x","type":"quantitative"},"y":{"field":"y","type":"quantitative"},"x2":{"field":"x2"},"y2":{"field":"y2"}}},
{"data":{"name":"edgesHeavy"},"mark":{"type":"rule","color":"black","strokeWidth":5},"encoding":{"x":{"field":"x","type":"quantitative"},"y":{"field":"y","type":"quantitative"},"x2":{"field":"x2"},"y2":{"field":"y2"}}},
{"data":{"name":"edgesGreen"},"mark":{"type":"rule","color":"black","strokeWidth":11},"encoding":{"x":{"field":"x","type":"quantitative"},"y":{"field":"y","type":"quantitative"},"x2":{"field":"x2"},"y2":{"field":"y2"}}},
{"data":{"name":"edgesGreen"},"mark":{"type":"rule","color":"#008000","strokeWidth":7.5},"encoding":{"x":{"field":"x","type":"quantitative"},"y":{"field":"y","type":"quantitative"},"x2":{"field":"x2"},"y2":{"field":"y2"}}},
{"data":{"name":"edgesRed"},"mark":{"type":"rule","color":"black","strokeWidth":11},"encoding":{"x":{"field":"x","type":"quantitative"},"y":{"field":"y","type":"quantitative"},"x2":{"field":"x2"},"y2":{"field":"y2"}}},
{"data":{"name":"edgesRed"},"mark":{"type":"rule","color":"#ff0000","strokeWidth":8},"encoding":{"x":{"field":"x","type":"quantitative"},"y":{"field":"y","type":"quantitative"},"x2":{"field":"x2"},"y2":{"field":"y2"}}},
{"data":{"name":"nodes"},"mark":{"type":"point","filled":true,"fill":"#b5b300","stroke":"#333300","strokeWidth":1,"opacity":1},
"encoding":{"x":{"field":"x","type":"quantitative"},"y":{"field":"y","type":"quantitative"},"size":{"field":"d","type":"quantitative","legend":null,"scale":{"type":"pow","exponent":2,"domain":[0,100],"range":[0,872]}}}},
{"data":{"name":"classes"},"mark":{"type":"point","filled":true,"stroke":"black","strokeWidth":3,"opacity":1},
"encoding":{"x":{"field":"x","type":"quantitative"},"y":{"field":"y","type":"quantitative"},"size":{"field":"d","type":"quantitative","legend":null,"scale":{"type":"pow","exponent":2,"domain":[0,100],"range":[0,872]}},
"fill":{"field":"group","type":"nominal","scale":{"domain":["15g_food_supply","7.5g_food_supply"],"range":["#ff0000","#008000"]},
"legend":{"title":null,"orient":"none","legendX":87,"legendY":160,"symbolType":"M-1.11,-0.39H1.11V0.39H-1.11Z","symbolSize":5184,"symbolStrokeColor":"black","symbolStrokeWidth":3.5,"symbolOpacity":1,"labelFontSize":37.4,"labelFont":"DejaVu Sans","labelColor":"black","labelOffset":28.5,"rowPadding":0,"labelLimit":500}}}},
{"data":{"name":"clades"},"mark":{"type":"point","filled":true,"stroke":"black","strokeWidth":3,"opacity":1},
"encoding":{"x":{"field":"x","type":"quantitative"},"y":{"field":"y","type":"quantitative"},"size":{"field":"d","type":"quantitative","legend":null,"scale":{"type":"pow","exponent":2,"domain":[0,100],"range":[0,872]}},
"fill":{"field":"clade","type":"nominal","scale":{"domain":["a: f_Flavobacteriaceae","b: o_Flavobacteriales","c: g_Un__s_Clostridiaceae_bacterium_GM1","d: g_Jeotgalicoccus","e: g_Staphylococcus","f: f_Staphylococcaceae","g: o_Bacillales","h: g_Aerococcus","i: f_Aerococcaceae","j: o_Lactobacillales","k: o_Burkholderiales"],"range":["#008000","#008000","#008000","#ff0000","#ff0000","#ff0000","#ff0000","#ff0000","#ff0000","#ff0000","#008000"]},
"legend":{"title":null,"orient":"none","legendX":1426.5,"legendY":144,"symbolType":"M-1.31,-0.45H1.31V0.45H-1.31Z","symbolSize":1764,"symbolStrokeColor":"black","symbolStrokeWidth":3.5,"symbolOpacity":1,"labelFontSize":26.2,"labelFont":"DejaVu Sans","labelColor":"black","labelOffset":23.5,"rowPadding":0,"labelLimit":700}}}},
{"data":{"name":"labels"},"mark":{"type":"text","align":"center","baseline":"middle","fontSize":26,"font":"DejaVu Sans","color":"black"},
"encoding":{"x":{"field":"x","type":"quantitative"},"y":{"field":"y","type":"quantitative"},"text":{"field":"label"},"angle":{"field":"angle","type":"quantitative","scale":null}}}
]}
]}
